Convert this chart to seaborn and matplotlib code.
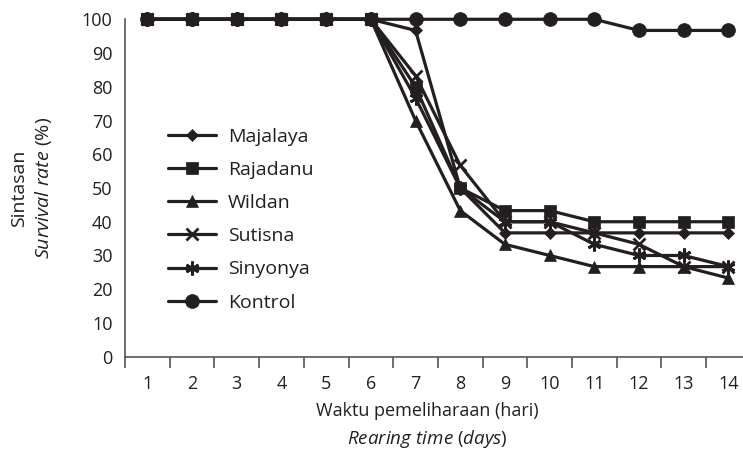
#!/usr/bin/env python3
"""Survival rate of fish over rearing time, per treatment."""

import numpy as np
import pandas as pd
import matplotlib
matplotlib.use("Agg")
import matplotlib.pyplot as plt
import seaborn as sns

# Data
days = list(range(1, 15))
majalaya = [100, 100, 100, 100, 100, 100, 96.7, 50, 36.7, 36.7, 36.7, 36.7, 36.7, 36.7]
rajadanu = [100, 100, 100, 100, 100, 100, 80, 50, 43.3, 43.3, 40, 40, 40, 40]
wildan = [100, 100, 100, 100, 100, 100, 70, 43.3, 33.3, 30, 26.7, 26.7, 26.7, 23.3]
sutisna = [100, 100, 100, 100, 100, 100, 83.3, 56.7, 40, 40, 36.7, 33.3, 26.7, 26.7]
sinyonya = [100, 100, 100, 100, 100, 100, 76.7, 50, 40, 40, 33.3, 30, 30, 26.7]
kontrol = [100, 100, 100, 100, 100, 100, 100, 100, 100, 100, 100, 96.7, 96.7, 96.7]

names = ["Majalaya", "Rajadanu", "Wildan", "Sutisna", "Sinyonya", "Kontrol"]
series = [majalaya, rajadanu, wildan, sutisna, sinyonya, kontrol]
y_ticks = list(range(0, 101, 10))

DARK = "#231f20"
AXIS = "#555555"
markers = {
    "Majalaya": ("D", 6),
    "Rajadanu": ("s", 8),
    "Wildan": ("^", 8),
    "Sutisna": ("x", 9),
    "Sinyonya": ((6, 2, 0), 10),
    "Kontrol": ("o", 10),
}

sns.set_style("white")
plt.rcParams["font.family"] = ["Open Sans", "DejaVu Sans"]
plt.rcParams["mathtext.fontset"] = "custom"
plt.rcParams["mathtext.rm"] = "Open Sans"
plt.rcParams["mathtext.it"] = "Open Sans:italic"

df = pd.DataFrame({
    "day": np.tile(days, len(names)),
    "rate": np.concatenate(series),
    "variety": np.repeat(names, len(days)),
})

fig = plt.figure(figsize=(7.43, 4.58), dpi=100)
ax = fig.add_axes([125 / 743, (458 - 356.7) / 458, (743 - 125) / 743, (356.7 - 19.3) / 458])

for name in names:
    m, ms = markers[name]
    sub = df[df["variety"] == name]
    sns.lineplot(data=sub, x="day", y="rate", ax=ax, color=DARK, linewidth=2.3,
                 marker=m, markersize=ms, markeredgewidth=2 if m in ("x", (6, 2, 0)) else 0.5,
                 markeredgecolor=DARK, markerfacecolor=DARK, label=name,
                 clip_on=False, zorder=3)

ax.set_xlim(0.5, 0.5 + (743 - 125) / 44.7)
ax.set_ylim(0, 100)
ax.set_yticks(y_ticks)
ax.set_xticks(days)
ax.set_xticks(np.arange(0.5, 14, 1.0), minor=True)
ax.tick_params(axis="x", which="major", length=0, pad=13, labelsize=13, labelcolor=DARK)
ax.tick_params(axis="x", which="minor", length=8, width=1.2, color=AXIS, direction="out",
               bottom=True)
ax.tick_params(axis="y", which="major", length=7, width=1.2, color=AXIS, direction="out",
               pad=2, labelsize=13, labelcolor=DARK)

for side in ("top", "right"):
    ax.spines[side].set_visible(False)
for side in ("left", "bottom"):
    ax.spines[side].set_color(AXIS)
    ax.spines[side].set_linewidth(1.2)

ax.set_xlabel("")
ax.set_ylabel("")

leg = ax.legend(loc="upper left", bbox_to_anchor=(160 / 743, 1 - 120 / 458),
                bbox_transform=fig.transFigure, frameon=False, fontsize=14,
                handlelength=2.5, handletextpad=0.6, labelspacing=0.78, borderaxespad=0)
for t in leg.get_texts():
    t.set_color(DARK)

# axis titles, two lines each, second line partly italic
fig.text(19 / 743, 1 - 188 / 458, "Sintasan", rotation=90, ha="center", va="center",
         fontsize=14, color=DARK)
fig.text(44 / 743, 1 - 188 / 458, r"$\it{Survival\ rate}$ (%)", rotation=90,
         ha="center", va="center", fontsize=14, color=DARK)
fig.text(427 / 743, 1 - 411 / 458, "Waktu pemeliharaan (hari)", ha="center", va="center",
         fontsize=13, color=DARK)
fig.text(427 / 743, 1 - 439 / 458, r"$\it{Rearing\ time}$ ($\it{days}$)", ha="center",
         va="center", fontsize=13.5, color=DARK)

fig.savefig("out.png", dpi=100)
